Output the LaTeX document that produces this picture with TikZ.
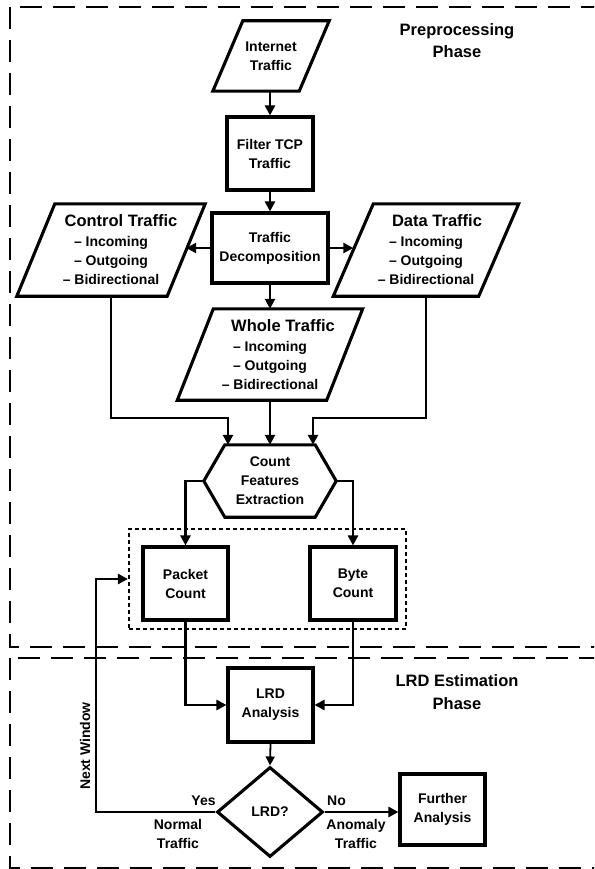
\documentclass[tikz,border=0pt]{standalone}
\usepackage{fontspec}
\setmainfont{Liberation Sans}
\usetikzlibrary{shapes.geometric,arrows.meta,calc}
\newcommand\paraout[2]{\draw[shp] ($(#1.north west)+(#2,0)$) -- ($(#1.north east)+(#2,0)$) -- ($(#1.south east)-(#2,0)$) -- ($(#1.south west)-(#2,0)$) -- cycle;}
\begin{document}
\begin{tikzpicture}[x=1pt,y=-1pt,
  nf/.style={font=\fontsize{14}{19}\selectfont\bfseries},
  tf/.style={font=\fontsize{16.5}{22.5}\selectfont\bfseries},
  shp/.style={line width=3.1pt, line join=miter},
  box/.style={draw, shp, nf, align=center, inner sep=0pt},
  pnode/.style={nf, align=center, inner sep=0pt},
  conn/.style={line width=2.7pt, -{Triangle[length=10pt,width=10pt]}},
  thinconn/.style={line width=1.8pt, -{Triangle[length=9pt,width=9pt]}},
  phase/.style={draw, line width=2.8pt, dash pattern=on 22pt off 11pt},
  lbl/.style={nf, align=center, inner sep=0pt}]
\clip (0,0) rectangle (594,869);
\fill[white] (0,0) rectangle (594,869);

% phase frames
\draw[phase] (10,7) rectangle (640,647);
\draw[phase] (10,658) rectangle (640,868);
\node[tf, align=center, inner sep=0pt] (ph1) at (457,40.5) {Preprocessing\\Phase};
\node[tf, align=center, inner sep=0pt] (ph2) at (457,692) {LRD Estimation\\Phase};

% input
\node[pnode, minimum width=86pt, minimum height=70pt] (inet) at (271,56) {Internet\\Traffic};
\paraout{inet}{15}
\node[box, minimum width=86pt, minimum height=73pt] (filter) at (270,153.5) {Filter TCP\\Traffic};
\node[box, minimum width=116pt, minimum height=70pt] (td) at (270,248) {Traffic\\Decomposition};

% decomposed traffic
\node[pnode, minimum width=150pt, minimum height=92pt] (ctl) at (111,250)
  {{\fontsize{16.5}{19}\selectfont\hspace*{20pt}Control Traffic}\\[1pt]– Incoming\\– Outgoing\\– Bidirectional};
\paraout{ctl}{19}
\node[pnode, minimum width=145pt, minimum height=92pt] (data) at (426,250)
  {{\fontsize{16.5}{19}\selectfont\hspace*{22pt}Data Traffic}\\[1pt]– Incoming\\– Outgoing\\– Bidirectional};
\paraout{data}{20}
\node[pnode, minimum width=149pt, minimum height=91pt] (whole) at (270,354.5)
  {{\fontsize{16.5}{19}\selectfont\hspace*{26pt}Whole Traffic}\\[1pt]– Incoming\\– Outgoing\\– Bidirectional};
\paraout{whole}{18}

% feature extraction
\node[pnode, minimum width=132pt, minimum height=72pt] (cfe) at (270,481) {Count\\Features\\Extraction};
\draw[shp] (cfe.west) -- ($(cfe.north west)+(21,0)$) -- ($(cfe.north east)+(-21,0)$) -- (cfe.east)
  -- ($(cfe.south east)+(-21,0)$) -- ($(cfe.south west)+(21,0)$) -- cycle;

\node[draw, line width=2.2pt, dash pattern=on 4pt off 3pt, minimum width=277pt, minimum height=100pt, inner sep=0pt] (grp) at (267.5,579) {};
\node[box, minimum width=85pt, minimum height=73pt] (pc) at (185.5,583.5) {Packet\\Count};
\node[box, minimum width=86pt, minimum height=73pt] (bc) at (353,583.5) {Byte\\Count};

% LRD estimation
\node[box, minimum width=85pt, minimum height=74pt] (lrd) at (270.5,705) {LRD\\Analysis};
\node[diamond, draw, shp, nf, minimum width=106pt, minimum height=90pt, inner sep=0pt] (dia) at (270,812) {LRD?};
\node[box, minimum width=85pt, minimum height=71pt] (fa) at (442.5,809.5) {Further\\Analysis};

% connectors
\coordinate (mj) at (0,418);
\coordinate (cin1) at ($(cfe.north)+(-42,0)$);
\coordinate (cin3) at ($(cfe.north)+(43,0)$);
\coordinate (nw) at ($(grp.west)+(-32,0)$);

\draw[conn] (inet.south -| filter.north) -- (filter.north);
\draw[conn] (filter.south) -- (td.north);
\draw[conn] (td.west) -- (td.west -| ctl.east);
\draw[conn] (td.east) -- (td.east -| data.west);
\draw[conn] (td.south) -- (td.south |- whole.north);
\draw[conn] (ctl.south) -- (ctl.south |- mj) -| (cin1);
\draw[conn] (whole.south) -- (whole.south |- cfe.north);
\draw[conn] (data.south) -- (data.south |- mj) -| (cin3);
\draw[conn] (cfe.west) -| (pc.north);
\draw[conn] (cfe.east) -| (bc.north);
\draw[conn] (pc.south) |- (lrd.west);
\draw[conn] (bc.south) |- (lrd.east);
\draw[thinconn] (lrd.south) -- (dia.north);
\draw[conn] (dia.east) -- (dia.east -| fa.west);
\draw[conn] (dia.west) -| (nw) -- (grp.west);

% labels
\node[lbl] (yes) at (203.5,801) {Yes};
\node[lbl] (no) at (336.5,801) {No};
\node[lbl] (norm) at (178,833.5) {Normal\\Traffic};
\node[lbl] (anom) at (356,833.5) {Anomaly\\Traffic};
\node[lbl, rotate=90] (nwl) at (85,746) {Next Window};
\end{tikzpicture}
\end{document}
